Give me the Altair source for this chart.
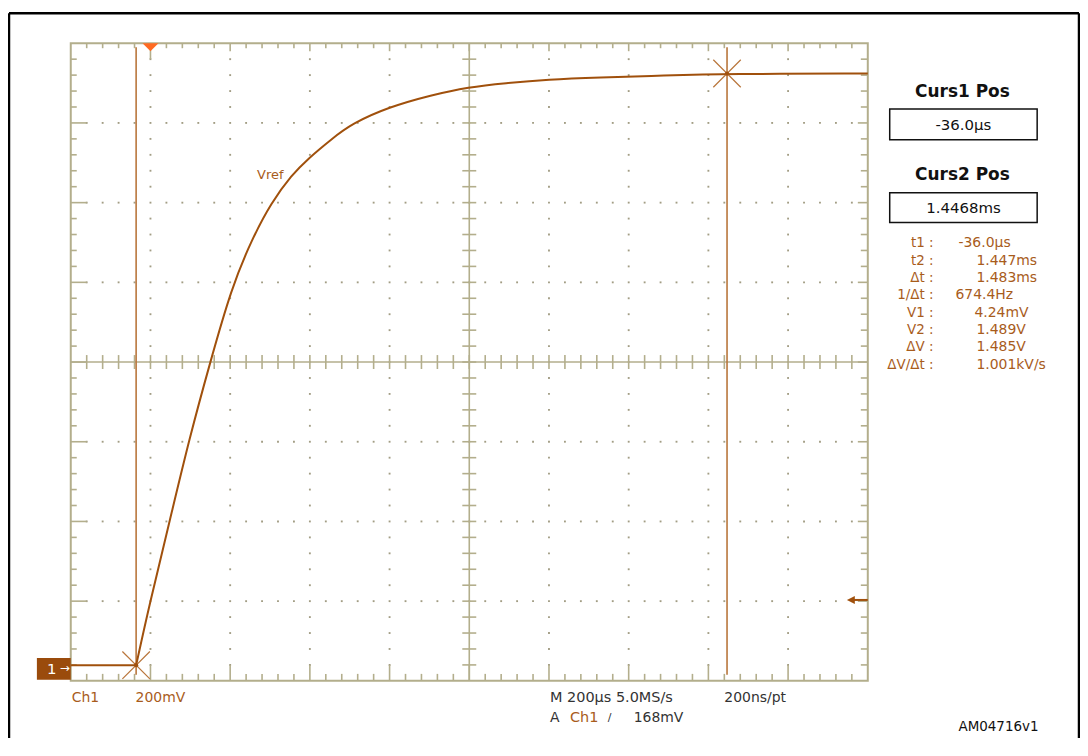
import altair as alt
import pandas as pd

# ---------------- data (time in µs, voltage in V) ----------------
trace_t = [-200, -36, -3, 48, 98, 150, 203, 253, 303, 355, 395, 455, 505, 598,
           705, 798, 890, 998, 1123, 1290, 1447, 1800]
trace_v = [0.004, 0.004, 0.155, 0.365, 0.575, 0.765, 0.950, 1.070, 1.165, 1.235,
           1.275, 1.325, 1.363, 1.405, 1.435, 1.455, 1.465, 1.474, 1.479, 1.484,
           1.488, 1.489]

cursor_t = [-36.0, 1446.8]
cursor_v = [0.00424, 1.489]
trigger_t = [0.0]
trigger_level = [0.168]

t_div, v_div = 200, 0.2
t_min, t_max = -200, 1800          # 10 divisions
v_min, v_max = -0.035, 1.565       # 8 divisions

readout_labels = ["t1 :", "t2 :", "Δt :", "1/Δt :", "V1 :", "V2 :", "ΔV :", "ΔV/Δt :"]
readout_values = ["-36.0µs", "1.447ms", "1.483ms", "674.4Hz", "4.24mV", "1.489V",
                  "1.485V", "1.001kV/s"]
panel_titles = ["Curs1 Pos", "Curs2 Pos"]
panel_values = ["-36.0µs", "1.4468ms"]
bottom_texts = ["Ch1", "200mV", "M 200µs 5.0MS/s", "A", "Ch1", "/", "168mV",
                "200ns/pt", "AM04716v1"]
trace_label = "Vref"

# ---------------- styling ----------------
W, H = 800, 640
PX_T = (t_max - t_min) / W      # µs per pixel
PX_V = (v_max - v_min) / H      # V per pixel
GRAT = "#b3ae8c"
DOT = "#a29d84"
TRACE = "#a0500c"
CURSOR = "#b9763c"
BROWN_TXT = "#a85c1c"
FONT = "DejaVu Sans"

xs = alt.Scale(domain=[t_min, t_max], nice=False, zero=False)
ys = alt.Scale(domain=[v_min, v_max], nice=False, zero=False)


def X(f):
    return alt.X(f, type="quantitative", scale=xs, axis=None)


def Y(f):
    return alt.Y(f, type="quantitative", scale=ys, axis=None)


# ---------------- graticule ----------------
segs = []
nx = int(round((t_max - t_min) / (t_div / 5)))
ny = int(round((v_max - v_min) / (v_div / 5)))
xc = t_min + 5 * t_div
yc = v_min + 4 * v_div
for k in range(1, nx):
    t = t_min + k * t_div / 5
    major = k % 5 == 0
    ltop = 16 if abs(t) < 1e-9 else (8 if major else 5)
    lbot = 16 if major else 7
    segs.append(dict(x=t, x2=t, y=v_max - ltop * PX_V, y2=v_max))
    segs.append(dict(x=t, x2=t, y=v_min, y2=v_min + lbot * PX_V))
    segs.append(dict(x=t, x2=t, y=yc - 7 * PX_V, y2=yc + 7 * PX_V))
for k in range(1, ny):
    v = v_min + k * v_div / 5
    major = k % 5 == 0
    lleft = 16 if major else 6
    lright = 10 if major else 7
    segs.append(dict(x=t_min, x2=t_min + lleft * PX_T, y=v, y2=v))
    segs.append(dict(x=t_max - lright * PX_T, x2=t_max, y=v, y2=v))
    segs.append(dict(x=xc - 7 * PX_T, x2=xc + 7 * PX_T, y=v, y2=v))
segs.append(dict(x=xc, x2=xc, y=v_min, y2=v_max))
segs.append(dict(x=t_min, x2=t_max, y=yc, y2=yc))
seg_df = pd.DataFrame(segs)

dots = set()
for i in range(1, 10):
    if i == 5:
        continue
    t = t_min + i * t_div
    for k in range(1, ny):
        dots.add((round(t, 4), round(v_min + k * v_div / 5, 6)))
for j in range(1, 8):
    if j == 4:
        continue
    v = v_min + j * v_div
    for k in range(1, nx):
        dots.add((round(t_min + k * t_div / 5, 4), round(v, 6)))
dot_df = pd.DataFrame(sorted(dots), columns=["t", "v"])

frame = alt.Chart(pd.DataFrame({"x": [t_min], "x2": [t_max], "y": [v_min], "y2": [v_max]})).mark_rect(
    filled=False, stroke=GRAT, strokeWidth=2
).encode(x=X("x"), x2="x2", y=Y("y"), y2="y2")

grat = alt.Chart(seg_df).mark_rule(color=GRAT, strokeWidth=1.6).encode(
    x=X("x"), x2="x2", y=Y("y"), y2="y2")

dotl = alt.Chart(dot_df).mark_square(size=3.5, color=DOT, opacity=1).encode(x=X("t"), y=Y("v"))

# ---------------- trace & cursors ----------------
flat_df = pd.DataFrame({"t": trace_t[:2], "v": trace_v[:2]})
rise_df = pd.DataFrame({"t": trace_t[1:], "v": trace_v[1:]})
flat = alt.Chart(flat_df).mark_line(color=TRACE, strokeWidth=2).encode(x=X("t"), y=Y("v"))
rise = alt.Chart(rise_df).mark_line(color=TRACE, strokeWidth=2, interpolate="basis").encode(
    x=X("t"), y=Y("v"))

cur_df = pd.DataFrame({"t": cursor_t, "v": cursor_v,
                       "top": [v_max - 4 * PX_V] * 2, "bot": [v_min + 6 * PX_V] * 2})
cursors = alt.Chart(cur_df).mark_rule(color=CURSOR, strokeWidth=1.6).encode(
    x=X("t"), y=Y("top"), y2="bot")
stars = alt.Chart(cur_df).mark_point(
    shape="M-1,-1L1,1M-1,1L1,-1", size=760, color=CURSOR, strokeWidth=1.2, filled=False, opacity=1
).encode(x=X("t"), y=Y("v"))
star_dot = alt.Chart(cur_df).mark_circle(size=18, color=TRACE, opacity=1).encode(x=X("t"), y=Y("v"))

trig_df = pd.DataFrame({"t": trigger_t, "v": [v_max - 4 * PX_V]})
trig = alt.Chart(trig_df).mark_point(
    shape="M-1,-0.5L1,-0.5L0,0.5Z", size=256, filled=True, color="#ff6a22", opacity=1
).encode(x=X("t"), y=Y("v"))

lvl_df = pd.DataFrame({"v": trigger_level, "a": [t_max - 17 * PX_T], "b": [t_max],
                       "h": [t_max - 14 * PX_T]})
lvl_line = alt.Chart(lvl_df).mark_rule(color=TRACE, strokeWidth=2).encode(
    x=X("h"), x2="b", y=Y("v"))
lvl_head = alt.Chart(lvl_df).mark_point(
    shape="M-1,0L1,-1L1,1Z", size=64, filled=True, color=TRACE, opacity=1
).encode(x=X("a"), y=Y("v"))


# ---------------- pixel-placed annotations ----------------
def txt(s, x, y, color="#222222", size=14, align="left", weight="normal", font=FONT):
    return alt.Chart(pd.DataFrame({"s": [s]})).mark_text(
        align=align, baseline="middle", font=font, fontSize=size, fontWeight=weight, color=color
    ).encode(x=alt.value(x), y=alt.value(y), text="s:N")


def box(x, x2, y, y2, fill, stroke=None, sw=0):
    kw = dict(fill=fill)
    if stroke:
        kw.update(stroke=stroke, strokeWidth=sw)
    return alt.Chart(pd.DataFrame({"a": [0]})).mark_rect(**kw).encode(
        x=alt.value(x), x2=alt.value(x2), y=alt.value(y), y2=alt.value(y2))


def line(x, x2, y, y2, color="black", sw=2.5):
    return alt.Chart(pd.DataFrame({"a": [0]})).mark_rule(color=color, strokeWidth=sw).encode(
        x=alt.value(x), x2=alt.value(x2), y=alt.value(y), y2=alt.value(y2))


layers = [
    line(-62, -62, -30, 700), line(1012, 1012, -30, 700), line(-62, 1012, -30, -30),
    frame, dotl, grat, cursors, flat, rise, stars, star_dot, trig, lvl_line, lvl_head,
    box(-34, 0, 617, 639, "#9a4b0c"),
    txt("1", -19, 628, color="white", size=15, align="center"),
    txt("→", -6, 627, color="white", size=12, align="center"),
    txt(trace_label, 187, 132, color=BROWN_TXT, size=13),
]

# bottom texts
bx = [1, 65, 481, 481, 501, 539, 565, 656, 891]
by = [657, 657, 657, 677, 677, 677, 677, 657, 686]
bc = [BROWN_TXT, BROWN_TXT, "#333333", "#333333", BROWN_TXT, "#333333", "#333333", "#333333", "#111111"]
bs = [14, 14, 14.5, 14, 14.5, 11, 14, 14, 13.5]
for s, x, y, c, z in zip(bottom_texts, bx, by, bc, bs):
    layers.append(txt(s, x, y, color=c, size=z))

# right panel
layers += [
    txt(panel_titles[0], 895, 49, color="#111111", size=17, align="center", weight="bold"),
    box(822, 970, 66, 97, "white", "#111111", 1.5),
    txt(panel_values[0], 896, 82, color="#111111", size=15, align="center"),
    txt(panel_titles[1], 895, 132, color="#111111", size=17, align="center", weight="bold"),
    box(822, 970, 150, 180, "white", "#111111", 1.5),
    txt(panel_values[1], 896, 165, color="#111111", size=15, align="center"),
]
vx = [891, 909, 909, 888, 907, 909, 909, 909]
for i, (lab, val) in enumerate(zip(readout_labels, readout_values)):
    y = 201 + 17.4 * i
    layers.append(txt(lab, 866, y, color=BROWN_TXT, size=13.5, align="right"))
    layers.append(txt(val, vx[i], y, color=BROWN_TXT, size=14))

chart = alt.layer(*layers).properties(
    width=W, height=H,
    autosize=alt.AutoSizeParams(type="none"),
    padding={"left": 63, "top": 34, "right": 213, "bottom": 56},
    background="white",
).configure_view(stroke=None)

chart.save("out.html", embed_options={"renderer": "svg", "actions": False})
